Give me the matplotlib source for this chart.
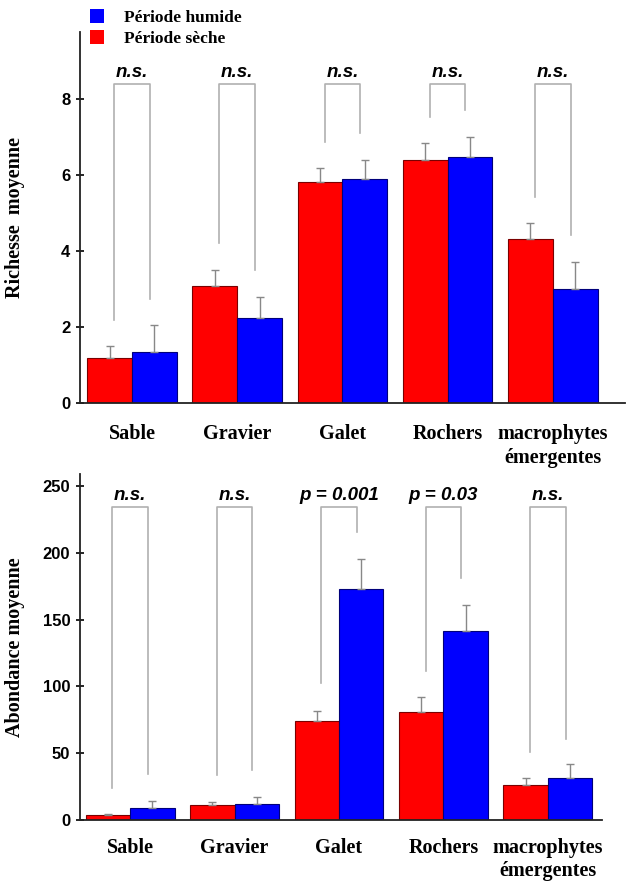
import numpy as np
import matplotlib.pyplot as plt
from matplotlib.patches import Patch

categories = ['Sable', 'Gravier', 'Galet', 'Rochers', 'macrophytes\némergentes']

# richesse moyenne
rich_seche = [1.18, 3.08, 5.82, 6.40, 4.32]
rich_seche_err = [0.32, 0.42, 0.36, 0.44, 0.42]
rich_humide = [1.34, 2.24, 5.90, 6.47, 3.00]
rich_humide_err = [0.71, 0.56, 0.50, 0.53, 0.71]
rich_labels = ['n.s.', 'n.s.', 'n.s.', 'n.s.', 'n.s.']
rich_leg_ends = [(2.18, 2.74), (4.2, 3.5), (6.87, 7.1), (7.53, 7.7), (5.42, 4.42)]

# abondance moyenne
abon_seche = [3.7, 11.0, 74.1, 80.8, 26.2]
abon_seche_err = [0.5, 2.5, 7.5, 11.2, 5.2]
abon_humide = [9.2, 12.0, 172.9, 141.5, 31.4]
abon_humide_err = [5.4, 5.4, 22.5, 19.5, 10.5]
abon_labels = ['n.s.', 'n.s.', 'p = 0.001', 'p = 0.03', 'n.s.']
abon_leg_ends = [(24, 34.4), (33.7, 37.4), (102.5, 215.6), (111.5, 181), (50.9, 60.6)]

red = '#ff0000'
blue = '#0000ff'
serif = 'Liberation Serif'
sans = 'Liberation Sans'

fig = plt.figure(figsize=(6.26, 8.83), dpi=100)
ax1 = fig.add_axes([0.1278, 0.5436, 0.8706, 0.4202])
ax2 = fig.add_axes([0.1278, 0.0713, 0.834, 0.3919])


def draw_panel(ax, seche, seche_err, humide, humide_err, labels, leg_ends,
               top, ylim, xlim, yticks, ylabel, labx, xpad, lsp):
    x = np.arange(len(categories))
    w = 0.425
    ekw = dict(ecolor='#888888', elinewidth=1.0, capsize=3, capthick=1.0)
    ax.bar(x - w / 2, seche, w, color=red, edgecolor='#7a0000', linewidth=0.8,
           yerr=[np.zeros(len(x)), seche_err], error_kw=ekw, zorder=2)
    ax.bar(x + w / 2, humide, w, color=blue, edgecolor='#00007a', linewidth=0.8,
           yerr=[np.zeros(len(x)), humide_err], error_kw=ekw, zorder=2)
    h = 0.17
    for i, (lab, (l0, l1)) in enumerate(zip(labels, leg_ends)):
        ax.plot([i - h, i - h, i + h, i + h], [l0, top, top, l1],
                color='#b0b0b0', lw=1.2, zorder=1)
        ax.text(i, top + (ylim[1] - ylim[0]) * 0.008, lab, ha='center', va='bottom',
                fontsize=13.5, fontweight='bold', fontstyle='italic', family=sans)
    ax.set_ylim(*ylim)
    ax.set_xlim(*xlim)
    ax.set_yticks(yticks)
    ax.set_xticks(x)
    ax.set_xticklabels(categories, fontsize=14.5, fontweight='bold', family=serif,
                       linespacing=lsp)
    ax.tick_params(axis='x', length=0, pad=xpad)
    ax.tick_params(axis='y', direction='inout', length=6, width=1.2, pad=4,
                   labelsize=12)
    for t in ax.get_yticklabels():
        t.set_fontweight('bold')
        t.set_family(sans)
    for s in ['top', 'right']:
        ax.spines[s].set_visible(False)
    for s in ['left', 'bottom']:
        ax.spines[s].set_linewidth(1.3)
        ax.spines[s].set_color('#222222')
    ax.set_ylabel(ylabel, fontsize=14.5, fontweight='bold', family=serif)
    ax.yaxis.set_label_coords(labx, 0.5)


draw_panel(ax1, rich_seche, rich_seche_err, rich_humide, rich_humide_err,
           rich_labels, rich_leg_ends, 8.39, (0, 9.76), (-0.494, 4.686),
           [0, 2, 4, 6, 8], 'Richesse  moyenne', -0.101, 15, 1.3)
draw_panel(ax2, abon_seche, abon_seche_err, abon_humide, abon_humide_err,
           abon_labels, abon_leg_ends, 234.3, (0, 259), (-0.48, 4.52),
           [0, 50, 100, 150, 200, 250], 'Abondance moyenne', -0.105, 13, 1.2)

handles = [Patch(facecolor=blue, edgecolor='none', label='Période humide'),
           Patch(facecolor=red, edgecolor='none', label='Période sèche')]
fig.legend(handles=handles, loc='upper left', bbox_to_anchor=(0.119, 1.007),
           frameon=False, handlelength=0.8, handleheight=0.8, handletextpad=1.15,
           labelspacing=0.25, prop=dict(family=serif, weight='bold', size=12.5))

fig.savefig('out.png', dpi=100)
